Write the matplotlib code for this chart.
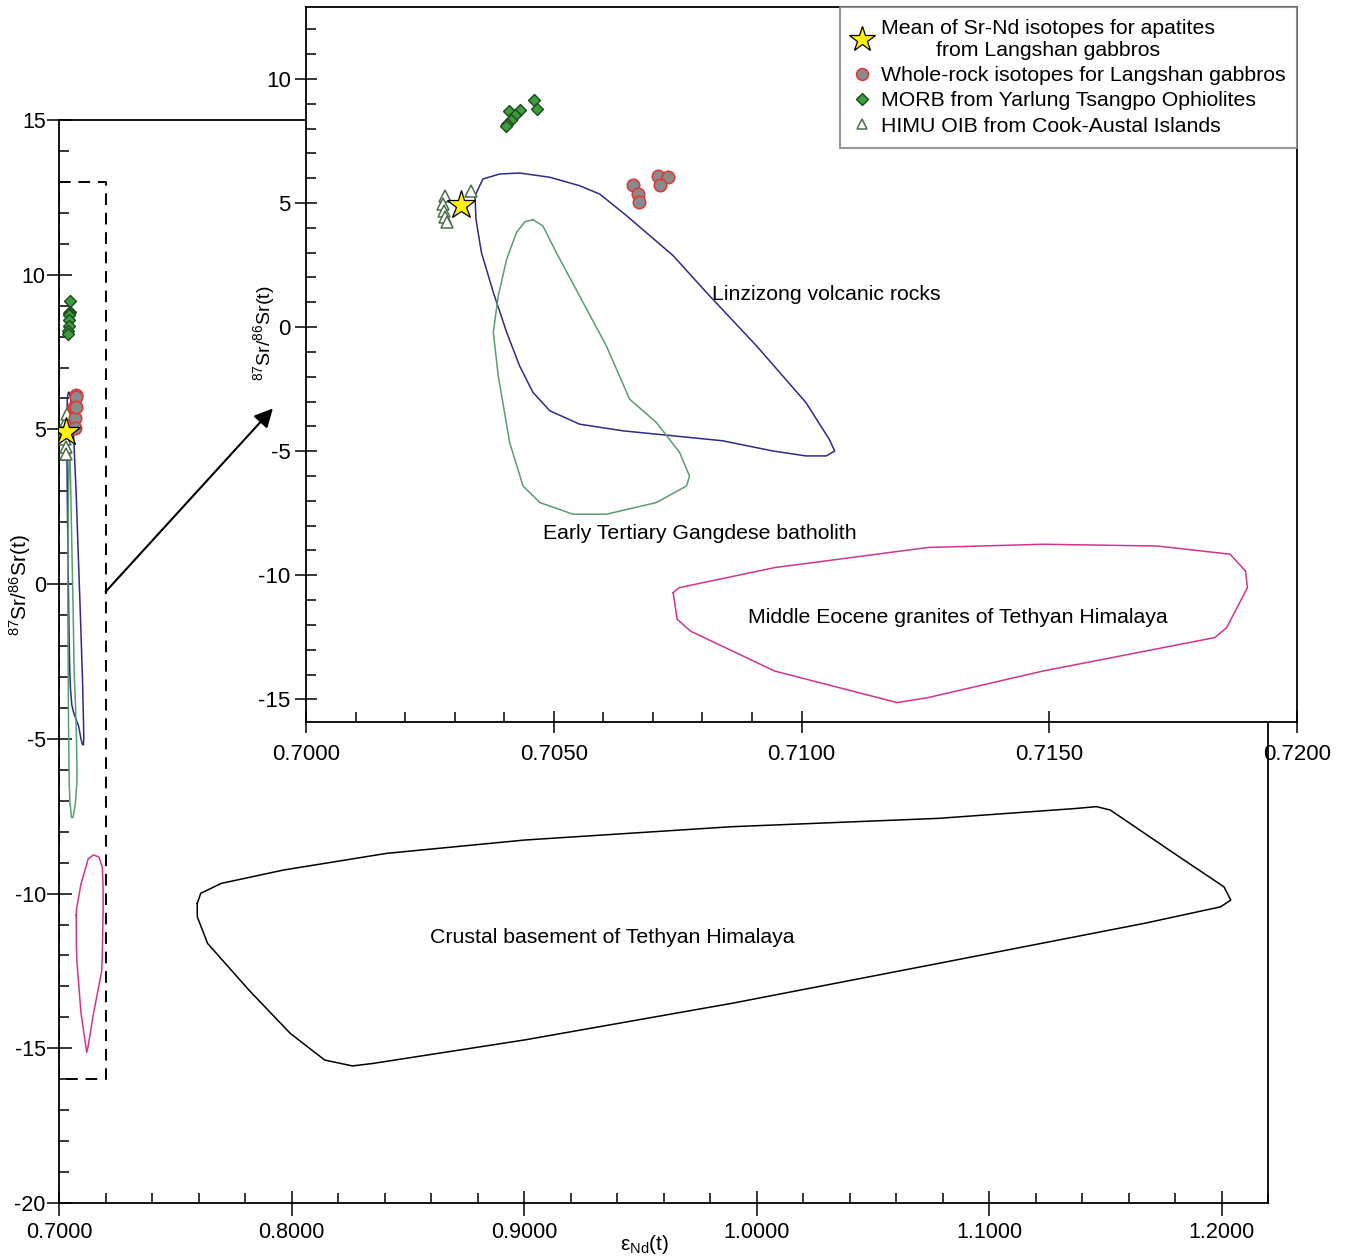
import numpy as np
import matplotlib.pyplot as plt
from matplotlib.ticker import MultipleLocator, FixedLocator, FormatStrFormatter
from matplotlib.lines import Line2D

plt.rcParams['font.family'] = ['Liberation Sans', 'DejaVu Sans']
plt.rcParams['mathtext.fontset'] = 'custom'
plt.rcParams['mathtext.rm'] = 'Liberation Sans'
plt.rcParams['axes.unicode_minus'] = False

# --- data ---
# mean of apatite Sr-Nd isotopes
star_x = [0.70313]
star_y = [4.92]
# whole-rock Langshan gabbros
wr_x = [0.70659, 0.70671, 0.70673, 0.70710, 0.70730, 0.70715]
wr_y = [5.73, 5.36, 5.05, 6.10, 6.06, 5.73]
# MORB Yarlung Tsangpo
morb_x = [0.70460, 0.70466, 0.70431, 0.70409, 0.70421, 0.70413, 0.70405, 0.70403]
morb_y = [9.15, 8.79, 8.75, 8.71, 8.55, 8.35, 8.19, 8.10]
# HIMU OIB Cook-Austal
himu_x = [0.70280, 0.70334, 0.70277, 0.70278, 0.70280, 0.70284]
himu_y = [5.27, 5.50, 4.96, 4.69, 4.42, 4.22]

# field outlines
linz_x = [0.70341, 0.70357, 0.70391, 0.70431, 0.70492, 0.70552, 0.70593, 0.70647,
          0.70741, 0.70808, 0.70909, 0.71009, 0.71056, 0.71067, 0.71050, 0.71009,
          0.70942, 0.70841, 0.70741, 0.70640, 0.70552, 0.70492, 0.70458, 0.70431,
          0.70405, 0.70378, 0.70354, 0.70343]
linz_y = [5.29, 5.97, 6.17, 6.21, 6.04, 5.70, 5.36, 4.49,
          2.88, 1.40, -0.75, -3.04, -4.52, -4.99, -5.19, -5.19,
          -4.99, -4.58, -4.38, -4.18, -3.91, -3.37, -2.63, -1.56,
          -0.21, 1.40, 3.01, 4.35]

gang_x = [0.70458, 0.70478, 0.70505, 0.70552, 0.70606, 0.70653, 0.70707, 0.70754,
          0.70774, 0.70768, 0.70707, 0.70606, 0.70539, 0.70472, 0.70438, 0.70411,
          0.70388, 0.70378, 0.70388, 0.70405, 0.70425, 0.70442]
gang_y = [4.33, 4.08, 3.01, 1.26, -0.75, -2.90, -3.84, -5.05,
          -6.00, -6.40, -7.07, -7.54, -7.54, -7.07, -6.40, -4.65,
          -1.96, -0.21, 1.26, 2.74, 3.82, 4.25]

eoc_x = [0.70741, 0.70749, 0.70776, 0.70946, 0.71193, 0.71255, 0.71487, 0.71834,
         0.71858, 0.71900, 0.71896, 0.71865, 0.71718, 0.71487, 0.71255, 0.70946,
         0.70753]
eoc_y = [-10.70, -11.77, -12.25, -13.86, -15.13, -14.93, -13.86, -12.51,
         -12.11, -10.50, -9.83, -9.15, -8.82, -8.75, -8.88, -9.69,
         -10.50]

crust_x = [0.75947, 0.76097, 0.76984, 0.79652, 0.84096, 0.90026, 0.98916, 1.07806,
           1.13731, 1.14622, 1.15215, 1.18176, 1.20103, 1.20400, 1.19957, 1.16695,
           1.07806, 0.98916, 0.90026, 0.83503, 0.82616, 0.81429, 0.79948, 0.78171,
           0.76390, 0.75947]
crust_y = [-10.32, -9.99, -9.67, -9.24, -8.70, -8.27, -7.84, -7.57,
           -7.25, -7.19, -7.30, -8.81, -9.78, -10.21, -10.43, -10.96,
           -12.26, -13.55, -14.73, -15.49, -15.57, -15.38, -14.52, -13.12,
           -11.61, -10.75]

main_xlim = (0.70, 1.22)
main_ylim = (-20, 15)
inset_xlim = (0.700, 0.720)
inset_ylim = (-15.9, 12.9)
zoom_box_y = (-16, 13)
arrow_start = (0.720, -0.25)
arrow_end = (0.792, 5.68)

col_linz = '#2e2b86'
col_gang = '#5c9c72'
col_eoc = '#d0358c'
fs_txt = 15.3


def closed(xs, ys):
    return list(xs) + [xs[0]], list(ys) + [ys[0]]


def draw_fields(a):
    for xs, ys, c in [(linz_x, linz_y, col_linz), (gang_x, gang_y, col_gang),
                      (eoc_x, eoc_y, col_eoc)]:
        px, py = closed(xs, ys)
        a.plot(px, py, color=c, lw=1.1, zorder=2, solid_joinstyle='round')


def draw_points(a):
    a.plot(himu_x, himu_y, ls='none', marker='^', ms=8, mfc='white',
           mec='#4b6e4b', mew=1.1, zorder=3)
    a.plot(morb_x, morb_y, ls='none', marker='D', ms=6.5, mfc='#3c9b3c',
           mec='#1d4a1d', mew=1.0, zorder=3)
    a.plot(wr_x, wr_y, ls='none', marker='o', ms=9, mfc='#8a8a8a',
           mec='#e03535', mew=1.1, zorder=3)
    a.plot(star_x, star_y, ls='none', marker='*', ms=21, mfc='#fff200',
           mec='black', mew=0.9, zorder=4)


W, H = 1367, 1256
fig = plt.figure(figsize=(W / 100, H / 100), dpi=100)

# ---- main axes ----
ax = fig.add_axes([59 / W, 1 - 1203 / H, (1268 - 59) / W, (1203 - 120) / H])
draw_fields(ax)
draw_points(ax)
px, py = closed(crust_x, crust_y)
ax.plot(px, py, color='black', lw=1.1, solid_joinstyle='round')
ax.text(0.8596, -11.41, 'Crustal basement of Tethyan Himalaya', fontsize=fs_txt,
        va='center', ha='left')

# dashed zoom box
bx = [inset_xlim[0], inset_xlim[1], inset_xlim[1], inset_xlim[0], inset_xlim[0]]
by = [zoom_box_y[1], zoom_box_y[1], zoom_box_y[0], zoom_box_y[0], zoom_box_y[1]]
ax.plot(bx, by, color='black', lw=1.4, ls=(0, (6, 4)), zorder=1)
ax.annotate('', xy=arrow_end, xytext=arrow_start,
            arrowprops=dict(arrowstyle='-|>', color='black', lw=1.5,
                            mutation_scale=28, shrinkA=0, shrinkB=0))

ax.set_xlim(*main_xlim)
ax.set_ylim(*main_ylim)
ax.xaxis.set_major_locator(MultipleLocator(0.1))
ax.xaxis.set_minor_locator(MultipleLocator(0.02))
ax.xaxis.set_major_formatter(FormatStrFormatter('%.4f'))
ax.yaxis.set_major_locator(MultipleLocator(5))
ax.yaxis.set_minor_locator(MultipleLocator(1))
ax.tick_params(which='major', direction='inout', length=18, width=1.1, labelsize=15.5)
ax.tick_params(which='minor', direction='in', length=7, width=1.1)
ax.tick_params(axis='x', which='major', pad=4.5)
ax.tick_params(axis='y', which='major', pad=0.5)
for s in ax.spines.values():
    s.set_linewidth(1.3)

# ---- inset ----
ins = fig.add_axes([306 / W, 1 - 721.7 / H, (1297 - 306) / W, (721.7 - 7) / H])
ins.set_facecolor('white')
draw_fields(ins)
draw_points(ins)
ins.text(0.70819, 1.30, 'Linzizong volcanic rocks', fontsize=fs_txt, va='center')
ins.text(0.70478, -8.32, 'Early Tertiary Gangdese batholith', fontsize=fs_txt, va='center')
ins.text(0.71316, -11.70, 'Middle Eocene granites of Tethyan Himalaya', fontsize=fs_txt,
         va='center', ha='center')

ins.set_xlim(*inset_xlim)
ins.set_ylim(*inset_ylim)
ins.xaxis.set_major_locator(MultipleLocator(0.005))
ins.xaxis.set_minor_locator(FixedLocator(np.arange(0.701, 0.7095, 0.001)))
ins.xaxis.set_major_formatter(FormatStrFormatter('%.4f'))
ins.yaxis.set_major_locator(MultipleLocator(5))
ins.yaxis.set_minor_locator(MultipleLocator(1))
ins.tick_params(which='major', direction='inout', length=16, width=1.1, labelsize=16)
ins.tick_params(which='minor', direction='in', length=7, width=1.1)
ins.tick_params(axis='x', which='major', pad=8)
ins.tick_params(axis='y', which='major', pad=3)
for s in ins.spines.values():
    s.set_linewidth(1.3)

labels = ['Mean of Sr-Nd isotopes for apatites\nfrom Langshan gabbros',
          'Whole-rock isotopes for Langshan gabbros',
          'MORB from Yarlung Tsangpo Ophiolites',
          'HIMU OIB from Cook-Austal Islands']
leg_handles = [
    Line2D([], [], ls='none', marker='*', ms=19, mfc='#fff200', mec='black', mew=0.9),
    Line2D([], [], ls='none', marker='o', ms=8.5, mfc='#8a8a8a', mec='#e03535', mew=1.1),
    Line2D([], [], ls='none', marker='D', ms=6, mfc='#3c9b3c', mec='#1d4a1d', mew=1.0),
    Line2D([], [], ls='none', marker='^', ms=7.5, mfc='white', mec='#4b6e4b', mew=1.1),
]
leg = ins.legend(leg_handles, labels, loc='upper right', fontsize=fs_txt,
                 frameon=True, fancybox=False, borderaxespad=0, numpoints=1,
                 handlelength=0.9, handletextpad=0.45, labelspacing=0.3,
                 borderpad=0.55)
leg.get_frame().set_edgecolor('#808080')
leg.get_frame().set_linewidth(1.5)
leg.get_texts()[0].set_multialignment('center')

# axis titles
fig.text(20 / W, 1 - 585 / H, r'$\mathregular{^{87}Sr/^{86}Sr(t)}$', rotation=90,
         ha='center', va='center', fontsize=15)
fig.text(264 / W, 1 - 333 / H, r'$\mathregular{^{87}Sr/^{86}Sr(t)}$', rotation=90,
         ha='center', va='center', fontsize=14)
fig.text(645 / W, 1 - 1245 / H, r'$\mathregular{\epsilon_{Nd}(t)}$',
         ha='center', va='center', fontsize=15)

fig.savefig('out.png', dpi=100, facecolor='white')
